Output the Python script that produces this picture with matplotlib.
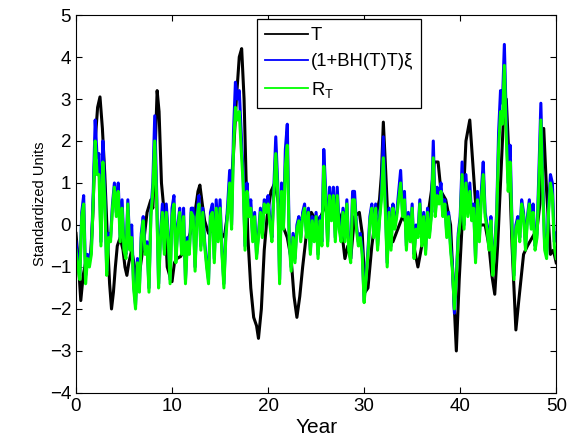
import matplotlib
matplotlib.use('Agg')
import matplotlib.pyplot as plt
import numpy as np

plt.rcParams['font.family'] = ['Liberation Sans', 'DejaVu Sans']
plt.rcParams['mathtext.fontset'] = 'custom'
plt.rcParams['mathtext.rm'] = 'Liberation Sans'

# black line T, read at irregular years
t_years = [0.0, 0.25, 0.5, 0.75, 1.0, 1.25, 1.5, 1.75, 2.0, 2.25, 2.5, 2.75, 3.0, 3.25, 3.5, 3.7, 3.9,
           4.1, 4.3, 4.6, 4.9, 5.1, 5.3, 5.5, 5.8, 6.1, 6.4, 6.7, 7.0, 7.4, 7.8, 8.0, 8.2, 8.45, 8.65,
           8.9, 9.1, 9.3, 9.5, 9.75, 10.0, 10.25, 10.5, 10.9, 11.4, 11.9, 12.4, 12.7, 12.9, 13.15, 13.4,
           13.8, 14.3, 14.8, 15.2, 15.5, 15.8, 16.1, 16.4, 16.7, 17.0, 17.25, 17.5, 17.7, 17.9, 18.2,
           18.5, 18.8, 19.0, 19.3, 19.6, 19.9, 20.3, 20.7, 21.1, 21.5, 22.0, 22.4, 22.7, 23.0, 23.3,
           23.6, 24.0, 24.5, 25.0, 25.5, 26.0, 26.5, 27.0, 27.5, 28.0, 28.3, 28.6, 29.0, 29.5, 29.8,
           30.1, 30.4, 30.8, 31.2, 31.6, 31.8, 32.0, 32.2, 32.5, 33.0, 33.5, 34.0, 34.5, 35.0, 35.6,
           36.0, 36.5, 37.0, 37.3, 37.7, 38.0, 38.5, 39.0, 39.3, 39.6, 39.9, 40.2, 40.6, 41.0, 41.3,
           41.7, 42.0, 42.6, 43.0, 43.3, 43.6, 43.9, 44.2, 44.5, 44.8, 45.1, 45.4, 45.8, 46.1, 46.6,
           47.0, 47.5, 48.0, 48.3, 48.7, 49.0, 49.4, 49.7, 50.0]
t_vals = [-0.2, -0.9, -1.8, -1.2, -0.9, -0.8, -0.8, 0.2, 2.0, 2.8, 3.05, 2.3, 1.2, -0.2, -1.4, -2.0, -1.6,
          -1.0, -0.5, -0.3, -0.6, -1.0, -1.2, -0.9, -0.6, -1.0, -1.4, -1.0, -0.5, 0.3, 0.6, 0.4, 1.5, 3.2, 2.7,
          1.0, 0.5, 0.0, -1.0, -1.2, -1.35, -0.9, -0.8, -0.75, -0.5, -0.2, 0.3, 0.8, 0.95, 0.5, 0.1,
          -0.2, -0.1, -0.1, -0.3, -0.2, 0.3, 0.8, 1.7, 3.0, 4.0, 4.2, 3.0, 1.2, -0.3, -1.5,
          -2.2, -2.4, -2.7, -2.0, -0.6, 0.2, 0.8, 1.0, 0.5, 0.0, -0.3, -0.8, -1.7, -2.2, -1.7,
          -1.0, -0.2, 0.3, 0.1, 0.2, 0.5, 0.6, 0.5, 0.2, -0.8, -0.5, -0.8, 0.2, 0.3, -0.2,
          -1.6, -1.5, -0.5, 0.2, 0.6, 1.2, 2.45, 1.5, 0.0, -0.4, -0.1, 0.2, 0.0, -0.3, -1.0,
          -0.5, 0.0, 0.8, 1.5, 1.5, 0.8, 0.6, 0.0, -1.5, -3.0, -1.3, 0.0, 2.0, 2.5, 1.5,
          0.2, 0.0, 0.0, -0.5, -1.2, -1.65, -0.5, 1.0, 2.5, 3.0, 1.5, -0.5, -2.5, -1.8, -0.7,
          -0.5, -0.3, -0.1, 0.5, 2.3, 0.8, -0.7, -0.6, -0.9]

# blue and green series, every 0.2 year from 0 to 50
noise_years = [round(0.2 * i, 1) for i in range(251)]
blue_vals = [
    -0.4, -0.8, -1.2, 0.3, 0.7, -1.2, -0.7, -0.8, -0.6, 0.8,
    2.5, 1.6, 1.7, -0.4, 2.0, 0.8, -1.1, -0.2, -0.3, 0.5,
    1.0, 0.3, 1.0, -0.3, 0.6, -0.5, -0.7, 0.6, -0.5, 0.0,
    -1.4, -1.9, -0.8, -1.5, -0.2, 0.2, -0.6, -0.4, -1.5, 0.3,
    1.0, 2.6, 0.8, -1.4, -0.2, 0.5, -0.6, 0.5, -0.2, -1.3,
    0.4, 0.7, -0.8, 0.0, 0.4, -0.6, 0.4, -1.3, -0.3, -0.6,
    0.4, 0.4, -1.0, 0.3, 0.7, -0.5, 0.4, -0.4, -0.9, -1.3,
    0.3, 0.5, -0.8, 0.6, -0.3, 0.6, -0.6, -1.4, -0.2, 0.5,
    1.3, 0.0, 2.2, 3.4, 3.0, 3.2, 2.2, 1.2, -0.5, 1.0,
    0.3, 0.6, -0.3, 0.3, -0.7, -0.2, 0.4, -0.2, 0.6, 0.5,
    0.7, 0.1, -0.3, 0.9, 2.1, 1.0, -1.3, 1.0, 0.0, 1.8,
    2.4, -0.3, -1.0, -0.2, -0.8, 0.0, 0.2, -0.3, 0.3, 0.5,
    -0.2, 0.4, -0.6, 0.2, -0.3, 0.3, -0.7, 0.2, -0.4, 1.8,
    0.8, -0.4, 0.9, 0.2, 0.9, -0.3, 0.9, 0.0, -0.3, 0.4,
    -0.3, 0.6, -0.5, -0.8, 0.8, 0.8, 0.0, -0.4, -0.2, -0.6,
    -1.8, -1.2, -0.6, 0.2, 0.5, -0.2, 0.5, -0.5, 0.2, 0.8,
    2.1, 0.6, -0.9, 0.4, -0.5, 0.5, 0.0, 0.3, 0.8, 1.3,
    0.3, 0.8, -0.5, 0.3, -0.3, 0.5, -0.7, 0.0, -0.2, 0.6,
    -0.4, 0.3, -0.6, 0.4, -0.2, 0.3, 2.0, 0.3, 0.9, 0.6,
    1.0, 0.3, 0.6, -0.2, 0.3, -0.5, -1.0, -2.1, -1.2, -0.2,
    0.2, 1.5, 0.0, 1.2, 0.3, 1.0, 0.2, 0.5, -0.8, 0.8,
    -0.3, 0.8, 1.5, 0.3, 0.0, -0.5, 0.2, -1.1, -0.5, 0.3,
    2.2, 3.2, 2.9, 4.3, 2.5, 1.0, 1.9, 0.0, -1.2, 0.0,
    0.2, -0.3, 0.6, 0.3, -0.5, 0.2, 0.6, 0.0, 0.5, -0.5,
    -0.2, 1.3, 2.9, 1.0, -0.5, -0.7, 0.4, 1.2, 1.0, -0.4,
    -0.2]
green_vals = [
    -0.6, -1.0, -1.3, 0.2, 0.5, -1.4, -0.8, -1.0, -0.7, 0.6,
    2.0, 1.2, 1.2, -0.5, 1.5, 0.6, -1.2, -0.3, -0.4, 0.4,
    0.9, 0.2, 0.8, -0.4, 0.4, -0.6, -0.8, 0.5, -0.6, -0.3,
    -1.5, -2.0, -0.9, -1.6, -0.3, 0.1, -0.7, -0.5, -1.6, 0.2,
    0.8, 2.0, 0.6, -1.5, -0.3, 0.3, -0.7, 0.3, -0.3, -1.4,
    0.2, 0.5, -0.9, -0.1, 0.3, -0.7, 0.2, -1.4, -0.4, -0.7,
    0.3, 0.2, -1.1, 0.2, 0.5, -0.6, 0.3, -0.5, -1.0, -1.4,
    0.2, 0.3, -0.9, 0.4, -0.4, 0.4, -0.7, -1.5, -0.3, 0.3,
    1.0, -0.1, 1.8, 2.8, 2.5, 2.7, 1.8, 1.0, -0.6, 0.8,
    0.2, 0.4, -0.4, 0.2, -0.8, -0.3, 0.3, -0.3, 0.5, 0.3,
    0.5, 0.0, -0.4, 0.7, 1.7, 0.8, -1.4, 0.8, -0.1, 1.4,
    1.9, -0.4, -1.1, -0.3, -0.9, -0.1, 0.1, -0.4, 0.2, 0.4,
    -0.3, 0.3, -0.7, 0.1, -0.4, 0.2, -0.8, 0.1, -0.5, 1.4,
    0.6, -0.5, 0.7, 0.1, 0.7, -0.4, 0.7, -0.1, -0.4, 0.3,
    -0.4, 0.5, -0.6, -0.9, 0.6, 0.6, -0.1, -0.5, -0.3, -0.7,
    -1.85, -1.3, -0.7, 0.1, 0.4, -0.3, 0.4, -0.6, 0.1, 0.6,
    1.6, 0.4, -1.0, 0.3, -0.6, 0.4, -0.1, 0.2, 0.6, 1.0,
    0.2, 0.6, -0.6, 0.2, -0.4, 0.4, -0.8, -0.1, -0.3, 0.5,
    -0.5, 0.2, -0.7, 0.3, -0.3, 0.2, 1.6, 0.2, 0.7, 0.5,
    0.8, 0.2, 0.5, -0.3, 0.2, -0.6, -1.1, -2.0, -1.3, -0.3,
    0.1, 1.2, -0.1, 1.0, 0.2, 0.8, 0.1, 0.4, -0.9, 0.6,
    -0.4, 0.6, 1.2, 0.2, -0.1, -0.6, 0.1, -1.2, -0.6, 0.2,
    1.8, 2.7, 2.4, 3.8, 2.1, 0.8, 1.5, -0.1, -1.3, -0.1,
    0.1, -0.4, 0.5, 0.2, -0.6, 0.1, 0.5, -0.1, 0.3, -0.6,
    -0.3, 1.0, 2.5, 0.8, -0.6, -0.8, 0.3, 1.0, 0.7, -0.5,
    -0.8]

fig = plt.figure(figsize=(5.67, 4.42), dpi=100)
ax = fig.add_axes([0.134, 0.111, 0.847, 0.855])

ax.plot(t_years, t_vals, color='black', linewidth=2.2, label='T')
ax.plot(noise_years, blue_vals, color=(0, 0, 1), linewidth=2.2, label='(1+BH(T)T)\u03be')
ax.plot(noise_years, green_vals, color=(0, 1, 0), linewidth=2.2, label=r'R$_\mathregular{T}$')

ax.set_xlim(0, 50)
ax.set_ylim(-4, 5)
ax.set_xticks(range(0, 51, 10))
ax.set_yticks(range(-4, 6))
ax.tick_params(direction='in', top=True, right=True, labelsize=13.5, length=4, width=0.8)
ax.set_xlabel('Year', fontsize=15, labelpad=2)
ax.set_ylabel('Standardized Units', fontsize=10.5, labelpad=2)

leg = ax.legend(loc='upper left', bbox_to_anchor=(0.377, 0.99), fontsize=13.3,
                fancybox=False, framealpha=1, edgecolor='black', handlelength=2.3,
                borderpad=0.45, labelspacing=0.5, handletextpad=0.15, borderaxespad=0)
leg.get_frame().set_linewidth(0.9)
for line in leg.get_lines():
    line.set_linewidth(1.3)

plt.savefig('out.png', dpi=100)
plt.close()
